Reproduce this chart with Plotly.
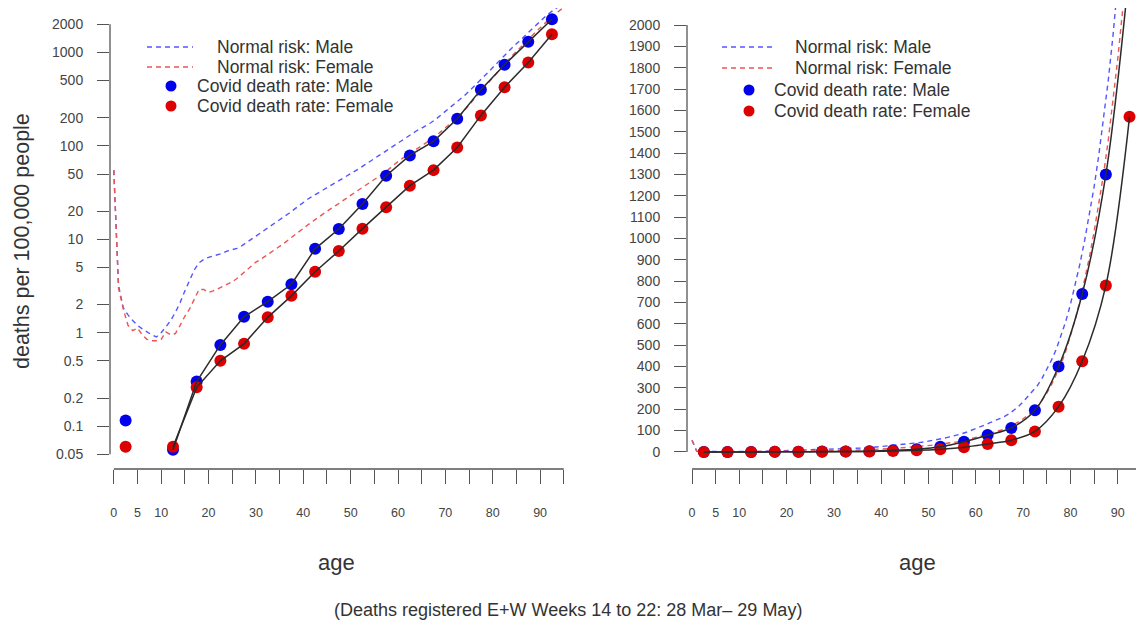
import math
import plotly.graph_objects as go

# ---------------- data ----------------
ages_normal = list(range(0, 96))
normal_male = [55, 3.2, 1.85, 1.55, 1.35, 1.2, 1.1, 1.02, 0.95, 0.9,
               1.0, 1.15, 1.35, 1.65, 2.1, 2.8, 3.7, 4.7, 5.6, 6.1,
               6.4, 6.6, 6.8, 7.1, 7.5, 7.8, 8.0, 8.5, 9.2, 10.0,
               10.8, 11.7, 12.7, 13.8, 15.0, 16.2, 17.5, 19.0, 20.8, 22.8,
               25.0, 27.0, 29.0, 31.0, 33.3, 35.5, 38.0, 40.8, 43.5, 46.5,
               50, 54, 58, 63, 68, 73, 79, 85, 92, 100,
               108, 117, 127, 137, 146, 155, 165, 178, 193, 212,
               235, 260, 285, 310, 345, 385, 430, 480, 540, 610,
               690, 780, 880, 990, 1110, 1240, 1390, 1560, 1740, 1950,
               2170, 2400, 2650, 2900, 3150, 3400]
normal_female = [55, 3.0, 1.8, 1.2, 1.05, 1.12, 0.95, 0.85, 0.82, 0.82,
                 0.85, 1.02, 0.95, 0.98, 1.2, 1.5, 1.8, 2.3, 2.9, 2.9,
                 2.7, 2.8, 2.95, 3.1, 3.3, 3.5, 3.8, 4.2, 4.7, 5.2,
                 5.7, 6.1, 6.6, 7.2, 7.7, 8.3, 9.1, 10.0, 11.0, 12.0,
                 13.1, 14.3, 15.6, 17.0, 18.5, 20.0, 21.6, 23.2, 25.0, 27.2,
                 29.5, 32, 34.5, 37, 40, 43.5, 47, 51, 56, 62,
                 68, 74, 80, 86, 92, 99, 107, 117, 128, 141,
                 155, 171, 189, 210, 240, 275, 315, 360, 410, 470,
                 540, 620, 705, 800, 910, 1030, 1160, 1300, 1460, 1640,
                 1840, 2060, 2290, 2530, 2780, 3050]

ages_covid = [2.5, 7.5, 12.5, 17.5, 22.5, 27.5, 32.5, 37.5, 42.5, 47.5,
              52.5, 57.5, 62.5, 67.5, 72.5, 77.5, 82.5, 87.5, 92.5]
covid_male = [0.115, 0, 0.056, 0.30, 0.74, 1.48, 2.15, 3.3, 7.9, 12.9,
              23.9, 48, 79, 112, 195, 400, 740, 1300, 2270]
covid_female = [0.06, 0, 0.06, 0.26, 0.50, 0.76, 1.46, 2.48, 4.5, 7.5,
                13.0, 22, 37.5, 55, 96, 212, 425, 780, 1570]

legend_labels = ["Normal risk: Male", "Normal risk: Female",
                 "Covid death rate: Male", "Covid death rate: Female"]

x_tick_vals = list(range(0, 100, 5))
x_tick_text = ["0", "5", "10", "", "20", "", "30", "", "40", "", "50", "",
               "60", "", "70", "", "80", "", "90", ""]
log_tick_vals = [0.05, 0.1, 0.2, 0.5, 1, 2, 5, 10, 20, 50, 100, 200, 500, 1000, 2000]
log_tick_text = ["0.05", "0.1", "0.2", "0.5", "1", "2", "5", "10", "20", "50",
                 "100", "200", "500", "1000", "2000"]
lin_tick_vals = list(range(0, 2001, 100))

# ---------------- style ----------------
W, H = 1136, 625
FONT = "Liberation Sans, Arial, Helvetica, sans-serif"
TXT = "#333333"
AX = "#555555"
BLUE_D = "rgb(85,85,255)"
RED_D = "rgb(235,85,85)"
BLUE = "rgb(0,0,235)"
RED = "rgb(220,0,0)"
BLACK = "#2b2b2b"
DASH = "5px,4px"


def fx(p):
    return p / W


def fy(p):
    return 1 - p / H


LOG_LO, LOG_HI = -1.459, 3.476

fig = go.Figure()

covid_male_log = [v if v > 0 else None for v in covid_male]
covid_female_log = [v if v > 0 else None for v in covid_female]

for (xa, ya, cm, cf, shape) in [
    ("x", "y", covid_male_log, covid_female_log, "linear"),
    ("x2", "y2", covid_male, covid_female, "spline"),
]:
    fig.add_trace(go.Scatter(x=ages_normal, y=normal_male, mode="lines",
                             name=legend_labels[0], showlegend=False,
                             line=dict(color=BLUE_D, width=1.4, dash=DASH),
                             xaxis=xa, yaxis=ya))
    fig.add_trace(go.Scatter(x=ages_normal, y=normal_female, mode="lines",
                             name=legend_labels[1], showlegend=False,
                             line=dict(color=RED_D, width=1.4, dash=DASH),
                             xaxis=xa, yaxis=ya))
    fig.add_trace(go.Scatter(x=ages_covid, y=cm, mode="markers",
                             name=legend_labels[2], showlegend=False,
                             marker=dict(color=BLUE, size=12),
                             xaxis=xa, yaxis=ya))
    fig.add_trace(go.Scatter(x=ages_covid, y=cf, mode="markers",
                             name=legend_labels[3], showlegend=False,
                             marker=dict(color=RED, size=12),
                             xaxis=xa, yaxis=ya))
    for series in (cm, cf):
        fig.add_trace(go.Scatter(x=ages_covid, y=series, mode="lines",
                                 showlegend=False, connectgaps=False,
                                 line=dict(color=BLACK, width=1.5, shape=shape),
                                 xaxis=xa, yaxis=ya))

common_x = dict(showgrid=False, zeroline=False, showline=False,
                tickmode="array", tickvals=x_tick_vals, ticktext=x_tick_text,
                ticks="outside", ticklen=14, tickwidth=1.3, tickcolor=AX,
                tickfont=dict(size=12.5, color="#444444", family=FONT),
                ticklabelstandoff=18)
common_y = dict(showgrid=False, zeroline=False, showline=False,
                tickmode="array", ticks="outside", ticklen=12, tickwidth=1.3,
                tickcolor=AX, tickfont=dict(size=14, color="#444444", family=FONT),
                ticklabelstandoff=11)

fig.update_layout(
    width=W, height=H,
    margin=dict(l=0, r=0, t=0, b=0),
    paper_bgcolor="white", plot_bgcolor="white",
    font=dict(family=FONT, color=TXT),
    showlegend=False,
    xaxis=dict(domain=[fx(110), fx(578)], range=[-0.8, 98], anchor="y", **common_x),
    yaxis=dict(domain=[fy(469), fy(8)], type="log", range=[LOG_LO, LOG_HI],
               tickvals=log_tick_vals, ticktext=log_tick_text, anchor="x", **common_y),
    xaxis2=dict(domain=[fx(687), 1.0], range=[-1.06, 93.87], anchor="y2", **common_x),
    yaxis2=dict(domain=[fy(469), fy(8)], range=[-80, 2080],
                tickvals=lin_tick_vals, anchor="x2", **common_y),
)


def logfrac(v):
    return (math.log10(v) - LOG_LO) / (LOG_HI - LOG_LO)


# R-style axis lines spanning first to last tick
axis_line = dict(color=AX, width=1.3)
fig.add_shape(type="line", xref="x domain", yref="y domain", x0=0, x1=0,
              y0=logfrac(log_tick_vals[0]), y1=logfrac(log_tick_vals[-1]), line=axis_line)
fig.add_shape(type="line", xref="x", yref="y domain", x0=x_tick_vals[0], x1=x_tick_vals[-1],
              y0=0, y1=0, line=axis_line)
fig.add_shape(type="line", xref="x2 domain", yref="y2", x0=0, x1=0,
              y0=lin_tick_vals[0], y1=lin_tick_vals[-1], line=axis_line)
fig.add_shape(type="line", xref="x2", yref="y2 domain", x0=x_tick_vals[0], x1=x_tick_vals[-1],
              y0=0, y1=0, line=axis_line)

# R-style legends (line samples, dots, labels)
legend_specs = [
    # (sample x0, sample x1, dot x, line-text x, dot-text x, row ys)
    (147, 193, 171, 215, 195, [47, 67, 86, 106]),
    (722, 772, 749, 793, 772, [47, 68, 90, 111]),
]
for sx0, sx1, dx, tx_line, tx_dot, rows in legend_specs:
    for i, (col, label) in enumerate([(BLUE_D, legend_labels[0]), (RED_D, legend_labels[1])]):
        fig.add_shape(type="line", xref="paper", yref="paper",
                      x0=fx(sx0), x1=fx(sx1), y0=fy(rows[i]), y1=fy(rows[i]),
                      line=dict(color=col, width=1.4, dash=DASH))
        fig.add_annotation(text=label, x=fx(tx_line), y=fy(rows[i]), xref="paper",
                           yref="paper", xanchor="left", yanchor="middle",
                           showarrow=False, font=dict(size=17.5, color=TXT))
    for j, (col, label) in enumerate([(BLUE, legend_labels[2]), (RED, legend_labels[3])]):
        r = rows[2 + j]
        fig.add_shape(type="circle", xref="paper", yref="paper",
                      xsizemode="pixel", ysizemode="pixel",
                      xanchor=fx(dx), yanchor=fy(r), x0=-5.5, x1=5.5, y0=-5.5, y1=5.5,
                      fillcolor=col, line=dict(width=0))
        fig.add_annotation(text=label, x=fx(tx_dot), y=fy(r), xref="paper",
                           yref="paper", xanchor="left", yanchor="middle",
                           showarrow=False, font=dict(size=17.5, color=TXT))

fig.add_annotation(text="age", x=fx(336), y=fy(562), xref="paper", yref="paper",
                   xanchor="center", yanchor="middle",
                   showarrow=False, font=dict(size=22, color=TXT))
fig.add_annotation(text="age", x=fx(917), y=fy(562), xref="paper", yref="paper",
                   xanchor="center", yanchor="middle",
                   showarrow=False, font=dict(size=22, color=TXT))
fig.add_annotation(text="deaths per 100,000 people", x=fx(22), y=fy(241),
                   xref="paper", yref="paper", xanchor="center", yanchor="middle",
                   textangle=-90, showarrow=False, font=dict(size=21.5, color=TXT))
fig.add_annotation(text="(Deaths registered E+W Weeks 14 to 22: 28 Mar\u2013 29 May)",
                   x=fx(568), y=fy(610), xref="paper", yref="paper",
                   xanchor="center", yanchor="middle", showarrow=False,
                   font=dict(size=18, color=TXT))

fig.write_html("out.html")
